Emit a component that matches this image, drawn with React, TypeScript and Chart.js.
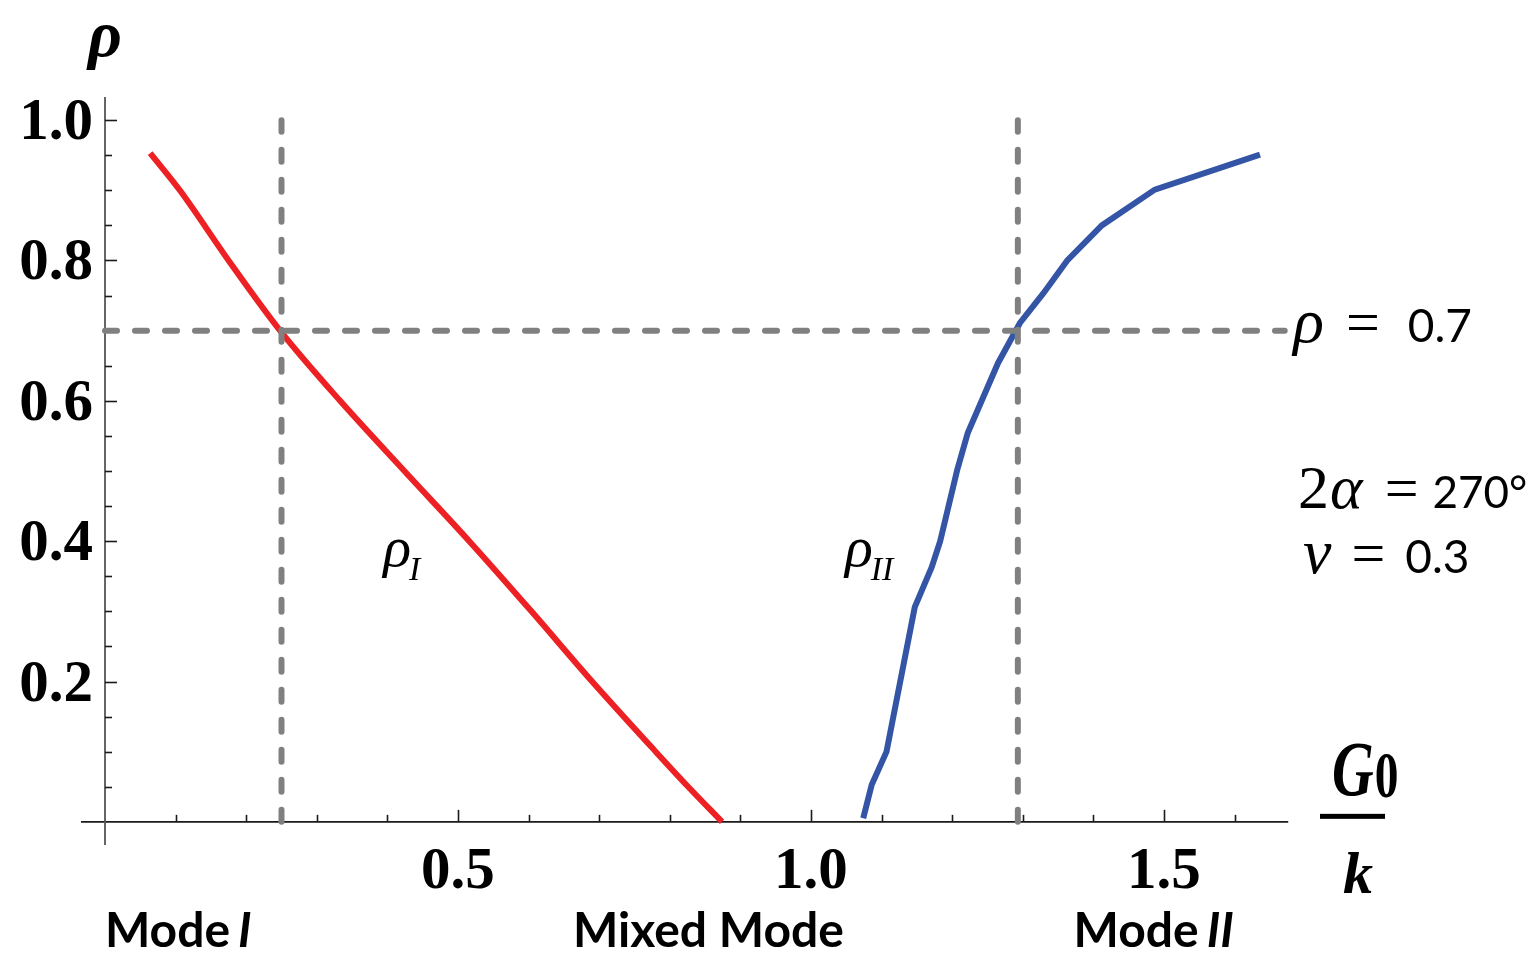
import React, { useEffect, useRef } from "react";
import { Chart, registerables } from "chart.js";

Chart.register(...registerables);

// ---- data ----
const redX = [0.064, 0.106, 0.175, 0.248, 0.333, 0.424, 0.516, 0.604, 0.69, 0.78, 0.826, 0.874];
const redY = [0.953, 0.9, 0.8, 0.7, 0.6, 0.5, 0.4, 0.3, 0.2, 0.1, 0.05, 0.0];
const blueX = [1.074, 1.086, 1.107, 1.147, 1.171, 1.183, 1.207, 1.222, 1.265, 1.296, 1.329, 1.363, 1.412, 1.487, 1.636];
const blueY = [0.005, 0.053, 0.1, 0.306, 0.363, 0.4, 0.501, 0.554, 0.654, 0.711, 0.753, 0.8, 0.85, 0.901, 0.951];

const modeIX = 0.25;
const modeIIX = 1.293;
const rhoLevel = 0.7;
const vLineY = [0, 1.0];
const hLineX = [0, 1.671];

const xRange = [-0.034, 1.687];
const yRange = [-0.033, 1.033];
const xAxisEnd = 1.676;

const xTicks = [0.1, 0.2, 0.3, 0.4, 0.5, 0.6, 0.7, 0.8, 0.9, 1.0, 1.1, 1.2, 1.3, 1.4, 1.5, 1.6];
const xMajor = [0.5, 1.0, 1.5];
const xTickLabels = ["0.5", "1.0", "1.5"];
const yTicks = [0.05, 0.1, 0.15, 0.2, 0.25, 0.3, 0.35, 0.4, 0.45, 0.5, 0.55, 0.6, 0.65, 0.7, 0.75, 0.8, 0.85, 0.9, 0.95, 1.0];
const yMajor = [0.2, 0.4, 0.6, 0.8, 1.0];
const yTickLabels = ["0.2", "0.4", "0.6", "0.8", "1.0"];

const modeLabels = ["Mode", "Mixed Mode", "Mode"];
const modeSuffix = ["I", "", "II"];
const modeLabelX = [0.0, 0.663, 1.372];
const modeLabelY = -0.179;

const SERIF = '"Liberation Serif", "DejaVu Serif", serif';
const SANS = 'Lato, "Open Sans", sans-serif';

const RED = "rgb(237,32,36)";
const BLUE = "rgb(52,84,165)";
const GRAY = "#808080";

type Seg = { t: string; f: string; dx?: number; dy?: number; sx?: number };

function drawSegs(ctx: CanvasRenderingContext2D, x: number, y: number, segs: Seg[]) {
  let cx = x;
  for (const s of segs) {
    cx += s.dx || 0;
    ctx.font = s.f;
    const sx = s.sx || 1;
    ctx.save();
    ctx.translate(cx, y + (s.dy || 0));
    ctx.scale(sx, 1);
    ctx.fillText(s.t, 0, 0);
    ctx.restore();
    cx += ctx.measureText(s.t).width * sx;
  }
}

const mathPlugin = {
  id: "mathAxes",
  beforeDatasetsDraw(chart: any) {
    const { ctx, scales } = chart;
    const x = scales.x;
    const y = scales.y;
    const x0 = x.getPixelForValue(0);
    const y0 = y.getPixelForValue(0);
    ctx.save();
    ctx.lineWidth = 1.6;
    ctx.strokeStyle = "#1a1a1a";
    ctx.beginPath();
    ctx.moveTo(x.getPixelForValue(xRange[0]), y0);
    ctx.lineTo(x.getPixelForValue(xAxisEnd), y0);
    ctx.stroke();
    for (const t of xTicks) {
      const px = Math.round(x.getPixelForValue(t)) + 0.5;
      const len = xMajor.includes(t) ? 12 : 7;
      ctx.beginPath();
      ctx.moveTo(px, y0);
      ctx.lineTo(px, y0 - len);
      ctx.stroke();
    }
    ctx.strokeStyle = "#555";
    ctx.lineWidth = 1.8;
    ctx.beginPath();
    ctx.moveTo(x0, y.getPixelForValue(yRange[0]));
    ctx.lineTo(x0, y.getPixelForValue(yRange[1]));
    ctx.stroke();
    ctx.strokeStyle = "#1a1a1a";
    ctx.lineWidth = 1.6;
    for (const t of yTicks) {
      const py = Math.round(y.getPixelForValue(t)) + 0.5;
      const len = yMajor.includes(t) ? 12 : 7;
      ctx.beginPath();
      ctx.moveTo(x0, py);
      ctx.lineTo(x0 + len, py);
      ctx.stroke();
    }
    ctx.restore();
  },
  afterDraw(chart: any) {
    const { ctx, scales } = chart;
    const x = scales.x;
    const y = scales.y;
    const x0 = x.getPixelForValue(0);
    const y0 = y.getPixelForValue(0);
    ctx.save();
    ctx.fillStyle = "#000";
    // tick labels
    ctx.font = `bold 59px ${SERIF}`;
    ctx.textAlign = "center";
    ctx.textBaseline = "alphabetic";
    xMajor.forEach((v, i) => ctx.fillText(xTickLabels[i], x.getPixelForValue(v), y0 + 66));
    ctx.textAlign = "right";
    yMajor.forEach((v, i) => ctx.fillText(yTickLabels[i], x0 - 12, y.getPixelForValue(v) + 19));

    // axis label rho
    ctx.textAlign = "center";
    ctx.font = `bold italic 66px ${SERIF}`;
    ctx.fillText("ρ", x0, y.getPixelForValue(1.091));

    ctx.textAlign = "left";
    // G0 / k
    const gx = x.getPixelForValue(1.738);
    drawSegs(ctx, gx, y.getPixelForValue(0.038), [
      { t: "G", f: `bold italic 78px ${SERIF}`, sx: 0.74 },
      { t: "0", f: `bold 66px ${SERIF}`, sx: 0.72, dx: 1, dy: 2 },
    ]);
    ctx.fillRect(gx - 12, y0 - 8, 65, 5);
    ctx.font = `bold italic 60px ${SERIF}`;
    ctx.fillText("k", gx + 11, y.getPixelForValue(-0.101));

    // curve labels
    const rl = y.getPixelForValue(0.365);
    drawSegs(ctx, x.getPixelForValue(0.394), rl, [
      { t: "ρ", f: `italic 58px ${SERIF}` },
      { t: "I", f: `italic 34px ${SERIF}`, dy: 14, dx: -2 },
    ]);
    drawSegs(ctx, x.getPixelForValue(1.048), rl, [
      { t: "ρ", f: `italic 58px ${SERIF}` },
      { t: "II", f: `italic 34px ${SERIF}`, dy: 14, dx: -2 },
    ]);

    // right annotations
    drawSegs(ctx, x.getPixelForValue(1.683), y.getPixelForValue(0.684), [
      { t: "ρ", f: `italic 64px ${SERIF}` },
      { t: "=", f: `60px ${SERIF}`, dx: 22 },
      { t: "0.7", f: `46px ${SANS}`, dx: 28 },
    ]);
    drawSegs(ctx, x.getPixelForValue(1.69), y.getPixelForValue(0.447), [
      { t: "2", f: `62px ${SERIF}` },
      { t: "α", f: `italic 62px ${SERIF}`, dx: 1 },
      { t: "=", f: `60px ${SERIF}`, dx: 22 },
      { t: "270°", f: `44px ${SANS}`, dx: 14 },
    ]);
    drawSegs(ctx, x.getPixelForValue(1.697), y.getPixelForValue(0.355), [
      { t: "ν", f: `italic 64px ${SERIF}` },
      { t: "=", f: `60px ${SERIF}`, dx: 20 },
      { t: "0.3", f: `46px ${SANS}`, dx: 20 },
    ]);

    // mode labels
    const my = y.getPixelForValue(modeLabelY);
    modeLabels.forEach((lab, i) => {
      const segs: Seg[] = [{ t: lab, f: `bold 48px ${SANS}` }];
      if (modeSuffix[i]) segs.push({ t: modeSuffix[i], f: `bold italic 48px ${SANS}`, dx: 8 });
      drawSegs(ctx, x.getPixelForValue(modeLabelX[i]), my, segs);
    });
    ctx.restore();
  },
};

export default function App() {
  const ref = useRef<HTMLCanvasElement | null>(null);
  useEffect(() => {
    if (!ref.current) return;
    const dash = [12, 18];
    const dashed = (data: { x: number; y: number }[]) => ({
      data,
      borderColor: GRAY,
      borderWidth: 6,
      borderDash: dash,
      borderCapStyle: "round" as const,
      pointRadius: 0,
      showLine: true,
      fill: false,
    });
    const chart = new Chart(ref.current, {
      type: "scatter",
      data: {
        datasets: [
          dashed(vLineY.map((v) => ({ x: modeIX, y: v }))),
          dashed(vLineY.map((v) => ({ x: modeIIX, y: v }))),
          dashed(hLineX.map((v) => ({ x: v, y: rhoLevel }))),
          {
            data: redX.map((v, i) => ({ x: v, y: redY[i] })),
            borderColor: RED,
            borderWidth: 6,
            pointRadius: 0,
            showLine: true,
            cubicInterpolationMode: "monotone" as const,
          },
          {
            data: blueX.map((v, i) => ({ x: v, y: blueY[i] })),
            borderColor: BLUE,
            borderWidth: 6,
            pointRadius: 0,
            showLine: true,
            tension: 0,
          },
        ],
      },
      options: {
        responsive: false,
        animation: false,
        events: [],
        layout: { padding: { left: 81, right: 1535 - 1296, top: 97, bottom: 967 - 845 } },
        plugins: { legend: { display: false }, tooltip: { enabled: false } },
        scales: {
          x: { type: "linear", min: xRange[0], max: xRange[1], display: false },
          y: { type: "linear", min: yRange[0], max: yRange[1], display: false },
        },
      },
      plugins: [mathPlugin],
    });
    return () => chart.destroy();
  }, []);
  return (
    <div style={{ position: "fixed", left: 0, top: 0, width: 1535, height: 967, background: "#fff" }}>
      <canvas ref={ref} width={1535} height={967} style={{ width: 1535, height: 967, display: "block" }} />
    </div>
  );
}
